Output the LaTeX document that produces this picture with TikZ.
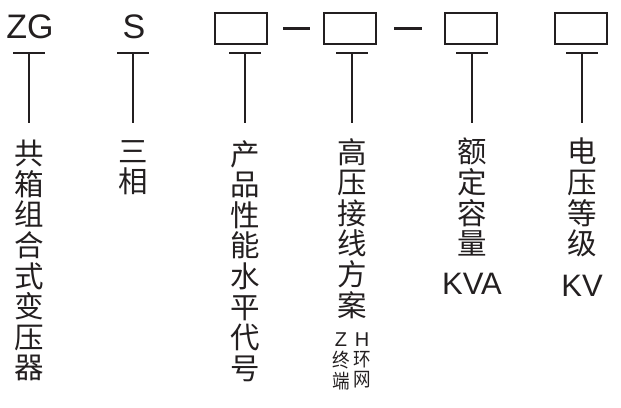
\documentclass[tikz,border=0pt]{standalone}
\usepackage{fontspec}
\setmainfont{Liberation Sans}
\newfontfamily\cjk{Noto Sans CJK SC}
\usetikzlibrary{positioning}
\definecolor{ink}{HTML}{231F20}
\tikzset{code/.style = {font=\fontsize{34}{34}\selectfont, text=ink, inner sep=0pt, anchor=base},
         unit/.style = {font=\fontsize{31}{31}\selectfont, text=ink, inner sep=0pt},
         small/.style = {font=\fontsize{20}{20}\selectfont, text=ink, inner sep=0pt, anchor=north},
         blank/.style = {draw=ink, line width=2pt, minimum width=52pt, minimum height=31pt, inner sep=0pt},
         meaning/.style = {font=\cjk\fontsize{29.5}{30.6}\selectfont, text=ink, align=center,
                           inner sep=0pt, anchor=north},
         tiny/.style = {font=\cjk\fontsize{19.5}{20.5}\selectfont, text=ink, align=center,
                        inner sep=0pt, anchor=north, xscale=0.9},
         stem/.style = {draw=ink, line width=2pt},
         hyphenbar/.style = {draw=ink, line width=3pt}}

\begin{document}
\begin{tikzpicture}[x=1pt, y=-1pt]
      \useasboundingbox (0, 0) rectangle (621, 407);
      % type code
      \node [code] (zg) at (30, 38) {ZG};
      \node [code] (s) at (134, 38) {S};
      \node [blank] (box1) at (241, 28.5) {};
      \node [blank] (box2) at (350, 28.5) {};
      \node [blank] (box3) at (471, 28.5) {};
      \node [blank] (box4) at (580.5, 28.5) {};
      \coordinate (d1a) at (283, 28);
      \coordinate (d1b) at (310, 28);
      \coordinate (d2a) at (394, 28);
      \coordinate (d2b) at (422, 28);
      \draw [hyphenbar] (d1a) -- (d1b);
      \draw [hyphenbar] (d2a) -- (d2b);
      % meanings
      \node [meaning] (c1) at (29, 140) {共\\箱\\组\\合\\式\\变\\压\\器};
      \node [meaning] (c2) at (133, 140) {三\\相};
      \node [meaning] (c3) at (245, 140) {产\\品\\性\\能\\水\\平\\代\\号};
      \node [meaning] (c4) at (352, 138) {高\\压\\接\\线\\方\\案};
      \node [meaning] (c5) at (472, 138) {额\\定\\容\\量};
      \node [meaning] (c6) at (582, 138) {电\\压\\等\\级};
      \node [small] (z) at (341, 333) {Z};
      \node [small] (h) at (362, 333) {H};
      \node [tiny, below=4pt of z] (zd) {终\\端};
      \node [tiny, below=4pt of h] (hw) {环\\网};
      \node [unit, below=16pt of c5] (kva) {KVA};
      \node [unit, below=18pt of c6] (kv) {KV};
      % stems
      \coordinate (t1) at (29, 53);
      \coordinate (t2) at (133, 53);
      \coordinate (t3) at (245, 53);
      \coordinate (t4) at (352, 53);
      \coordinate (t5) at (472, 53);
      \coordinate (t6) at (582, 53);
      \draw [stem] ([xshift=-16pt]t1) -- ([xshift=16pt]t1);
      \draw [stem] ([xshift=-16pt]t2) -- ([xshift=16pt]t2);
      \draw [stem] ([xshift=-16pt]t3) -- ([xshift=16pt]t3);
      \draw [stem] ([xshift=-16pt]t4) -- ([xshift=16pt]t4);
      \draw [stem] ([xshift=-16pt]t5) -- ([xshift=16pt]t5);
      \draw [stem] ([xshift=-16pt]t6) -- ([xshift=16pt]t6);
      \draw [stem] (t1) -- ([yshift=17pt]c1.north);
      \draw [stem] (t2) -- ([yshift=17pt]c2.north);
      \draw [stem] (t3) -- ([yshift=17pt]c3.north);
      \draw [stem] (t4) -- ([yshift=15pt]c4.north);
      \draw [stem] (t5) -- ([yshift=15pt]c5.north);
      \draw [stem] (t6) -- ([yshift=15pt]c6.north);
\end{tikzpicture}
\end{document}
